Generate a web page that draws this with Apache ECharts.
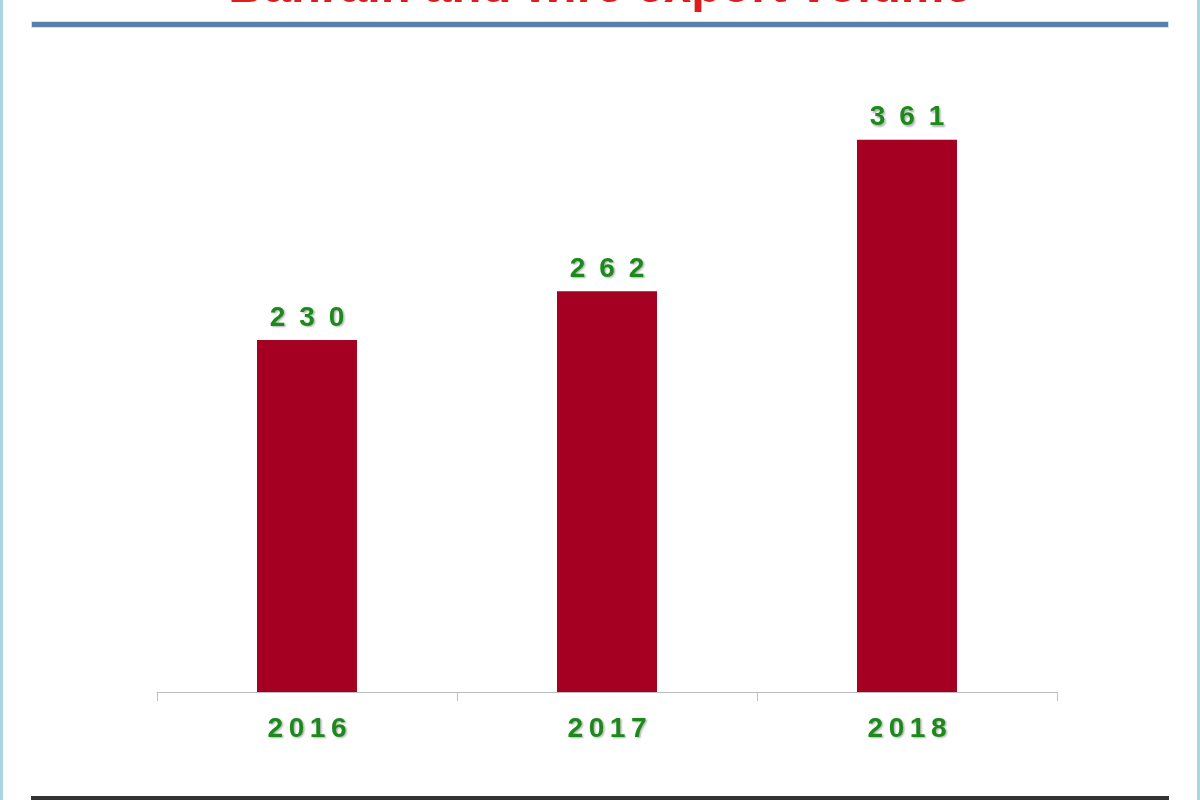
<!DOCTYPE html>
<html>
<head>
<meta charset="utf-8">
<title>Bahrain export volume</title>
<script src="https://cdn.jsdelivr.net/npm/echarts@6/dist/echarts.min.js"></script>
<style>
  html, body { margin: 0; padding: 0; background: #fff; }
  #main { width: 1200px; height: 800px; }
</style>
</head>
<body>
<div id="main"></div>
<script>
// chart data
var years = ["2016", "2017", "2018"];
var volumes = [230, 262, 361];
var yMax = 400;

var myChart = echarts.init(document.getElementById("main"));

// spread the digits out like the original slide
function spread(str, sep) {
  return String(str).split("").join(sep);
}

var greenText = {
  color: "#1b8a1b",
  fontFamily: "Liberation Sans, Arial, sans-serif",
  fontWeight: "bold",
  fontSize: 28,
  textShadowColor: "rgba(0,0,0,0.3)",
  textShadowBlur: 2,
  textShadowOffsetX: 1.5,
  textShadowOffsetY: 1.5
};

myChart.setOption({
  backgroundColor: "#fff",
  animation: false,
  // title is cut off by the top of the slide in the original
  title: {
    text: "Bahrain and wire export volume",
    left: "center",
    top: -41,
    textStyle: {
      color: "#e01b1b",
      fontFamily: "Liberation Sans, Arial, sans-serif",
      fontWeight: "bold",
      fontSize: 49
    }
  },
  graphic: [
    // light blue frame at the page edges
    { type: "rect", left: 0, top: 0, shape: { width: 3, height: 800 }, style: { fill: "#a9d6e0" } },
    { type: "rect", right: 0, top: 0, shape: { width: 3, height: 800 }, style: { fill: "#a9d6e0" } },
    // blue rule under the title
    { type: "rect", left: 31, top: 21, shape: { width: 1138, height: 7 }, style: { fill: "#cfe6ee" } },
    { type: "rect", left: 32, top: 22, shape: { width: 1136, height: 5 }, style: { fill: "#5b7fa8" } },
    // dark rule at the bottom
    { type: "rect", left: 31, top: 796, shape: { width: 1138, height: 4 }, style: { fill: "#333" } }
  ],
  grid: { left: 157, right: 143, top: 80, bottom: 108 },
  xAxis: {
    type: "category",
    data: years,
    axisLine: { lineStyle: { color: "#bdbdbd", width: 1 } },
    axisTick: { show: true, length: 9, lineStyle: { color: "#bdbdbd" } },
    axisLabel: Object.assign({
      margin: 23,
      formatter: function (v) { return spread(v, "\u2009"); }
    }, greenText)
  },
  yAxis: {
    type: "value",
    min: 0,
    max: yMax,
    show: false,
    splitLine: { show: false }
  },
  series: [
    {
      type: "bar",
      data: volumes,
      barWidth: 100,
      itemStyle: { color: "#a50021" },
      label: Object.assign({
        show: true,
        position: "top",
        distance: 8,
        formatter: function (p) { return spread(p.value, "\u2002"); }
      }, greenText)
    }
  ]
});
</script>
</body>
</html>
